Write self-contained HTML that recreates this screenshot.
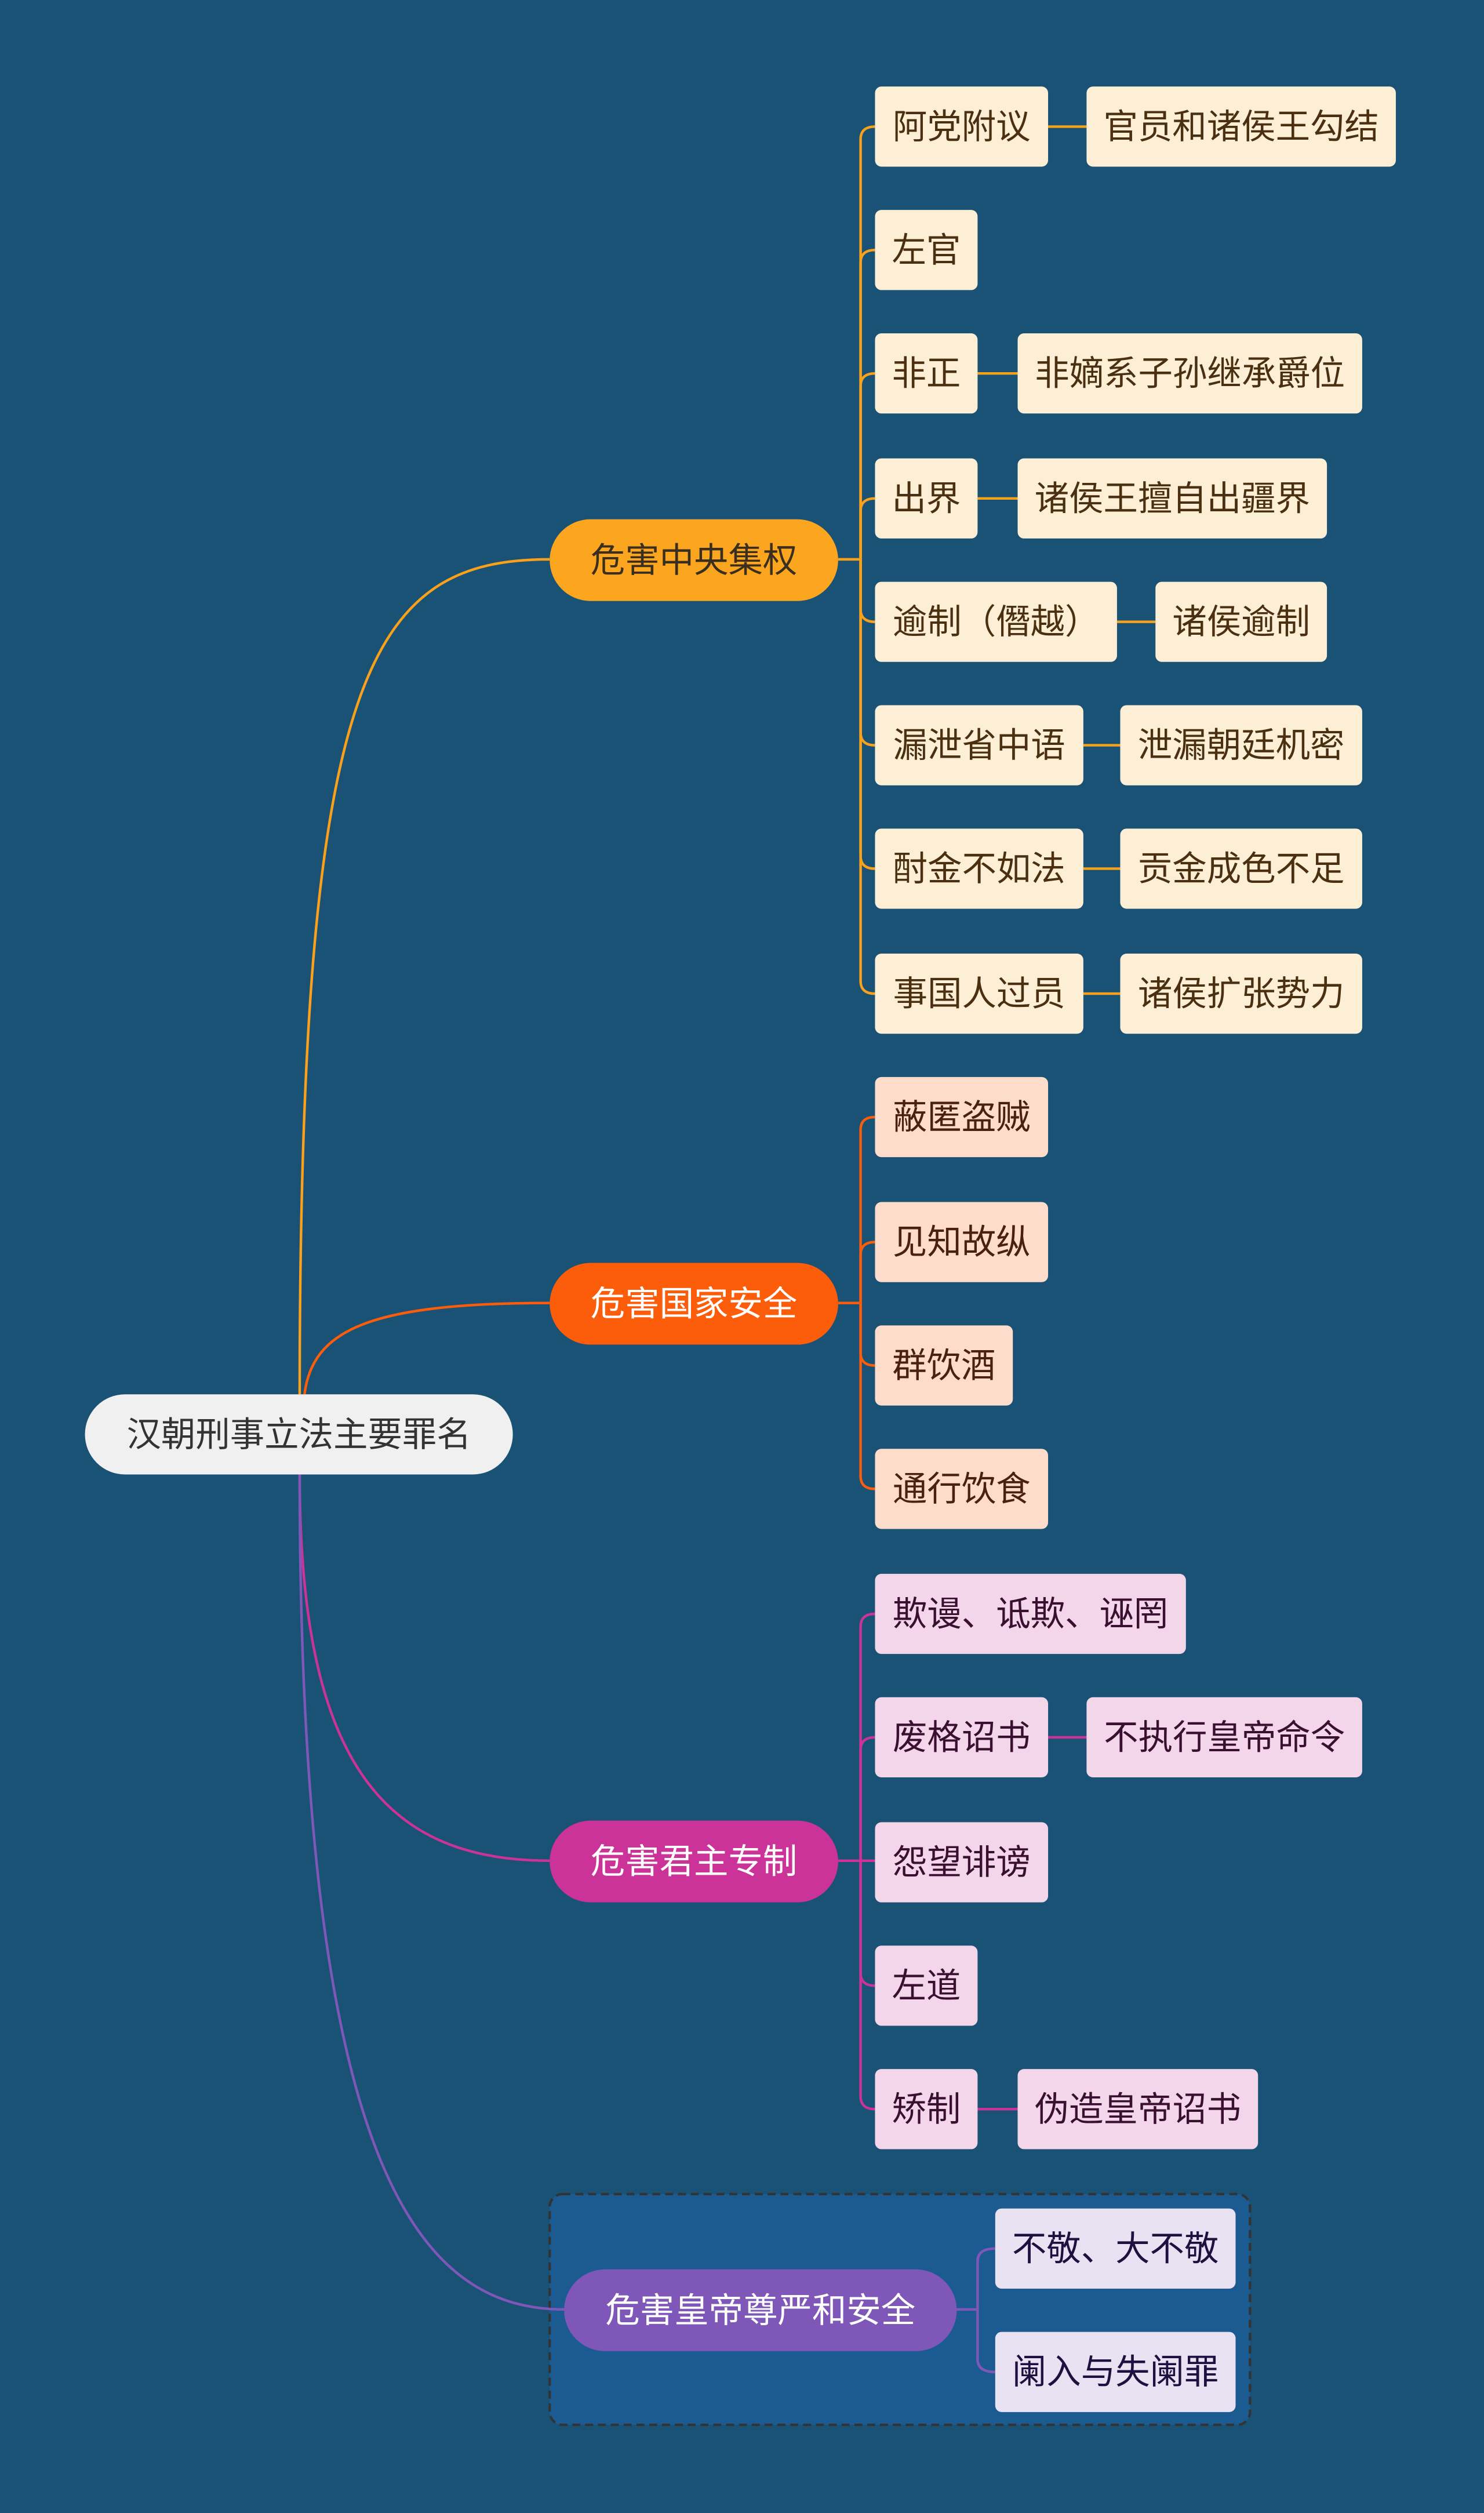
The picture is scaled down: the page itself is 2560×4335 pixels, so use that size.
<!DOCTYPE html>
<html><head><meta charset="utf-8"><style>
html,body{margin:0;padding:0;background:#1a5276;}
svg{display:block}
text{font-family:"Liberation Sans","Noto Sans CJK SC",sans-serif;font-size:21.5px;dominant-baseline:central;text-anchor:middle}
</style></head><body>
<svg width="2560" height="4335" viewBox="0 0 926 1568" preserveAspectRatio="none" xmlns="http://www.w3.org/2000/svg">
<rect width="926" height="1568" fill="#1a5276"/>
<!-- group 4 dashed box -->
<rect x="343" y="1369" width="437" height="144" rx="8" fill="#1c5a92" stroke="#333" stroke-width="1.5" stroke-dasharray="5,3"/>
<!-- root connectors -->
<g fill="none" stroke-width="1.6">
<path d="M187,870 C187,420 230,349 343,349" stroke="#f9a11b"/>
<path d="M190,870 C195,830 230,813 343,813" stroke="#fc5d0a"/>
<path d="M187,920 C187,1100 240,1161 343,1161" stroke="#cc3399"/>
<path d="M187,920 C187,1350 260,1441 352,1441" stroke="#7e57b8"/>
</g>
<!-- group connectors -->
<g fill="none" stroke-width="1.6" stroke="#f9a11b">
<path d="M523,349 H537"/>
<path d="M537,349 V87 Q537,79 546,79"/><path d="M537,349 V164 Q537,156 546,156"/><path d="M537,349 V241 Q537,233 546,233"/><path d="M537,349 V319 Q537,311 546,311"/>
<path d="M537,349 V380 Q537,388 546,388"/><path d="M537,349 V457 Q537,465 546,465"/><path d="M537,349 V534 Q537,542 546,542"/><path d="M537,349 V612 Q537,620 546,620"/>
<path d="M654,79 H678"/><path d="M610,233 H635"/><path d="M610,311 H635"/><path d="M697,388 H721"/><path d="M676,465 H699"/><path d="M676,542 H699"/><path d="M676,620 H699"/>
</g>
<g fill="none" stroke-width="1.6" stroke="#fc5d0a">
<path d="M523,813 H537"/>
<path d="M537,813 V705 Q537,697 546,697"/><path d="M537,813 V783 Q537,775 546,775"/><path d="M537,813 V844 Q537,852 546,852"/><path d="M537,813 V921 Q537,929 546,929"/>
</g>
<g fill="none" stroke-width="1.6" stroke="#cc3399">
<path d="M523,1161 H537"/>
<path d="M537,1161 V1015 Q537,1007 546,1007"/><path d="M537,1161 V1092 Q537,1084 546,1084"/><path d="M537,1161 H546"/><path d="M537,1161 V1231 Q537,1239 546,1239"/><path d="M537,1161 V1308 Q537,1316 546,1316"/>
<path d="M654,1084 H678"/><path d="M610,1316 H635"/>
</g>
<g fill="none" stroke-width="1.6" stroke="#7e57b8">
<path d="M597,1441 H610"/><path d="M610,1441 V1411 Q610,1403 621,1403"/><path d="M610,1441 V1472 Q610,1480 621,1480"/>
</g>
<!-- root -->
<rect x="53" y="870" width="267" height="50" rx="25" fill="#f0f0f0"/>
<text x="186.5" y="895" fill="#333">汉朝刑事立法主要罪名</text>
<!-- branches -->
<rect x="343" y="324" width="180" height="51" rx="25.5" fill="#fca51f"/><text x="433" y="349.5" fill="#3a2f1f">危害中央集权</text>
<rect x="343" y="788" width="180" height="51" rx="25.5" fill="#fc5d0a"/><text x="433" y="813.5" fill="#fff">危害国家安全</text>
<rect x="343" y="1136" width="180" height="51" rx="25.5" fill="#cc3399"/><text x="433" y="1161.5" fill="#fff">危害君主专制</text>
<rect x="352" y="1416" width="245" height="51" rx="25.5" fill="#7e57b8"/><text x="474.5" y="1441.5" fill="#fff">危害皇帝尊严和安全</text>
<!-- group 1 leaves -->
<g fill="#fdefd6">
<rect x="546" y="54" width="108" height="50" rx="4"/><rect x="678" y="54" width="193" height="50" rx="4"/>
<rect x="546" y="131" width="64" height="50" rx="4"/>
<rect x="546" y="208" width="64" height="50" rx="4"/><rect x="635" y="208" width="215" height="50" rx="4"/>
<rect x="546" y="286" width="64" height="50" rx="4"/><rect x="635" y="286" width="193" height="50" rx="4"/>
<rect x="546" y="363" width="151" height="50" rx="4"/><rect x="721" y="363" width="107" height="50" rx="4"/>
<rect x="546" y="440" width="130" height="50" rx="4"/><rect x="699" y="440" width="151" height="50" rx="4"/>
<rect x="546" y="517" width="130" height="50" rx="4"/><rect x="699" y="517" width="151" height="50" rx="4"/>
<rect x="546" y="595" width="130" height="50" rx="4"/><rect x="699" y="595" width="151" height="50" rx="4"/>
</g>
<g fill="#4a3010">
<text x="600" y="79">阿党附议</text><text x="774.5" y="79">官员和诸侯王勾结</text>
<text x="578" y="156">左官</text>
<text x="578" y="233">非正</text><text x="742.5" y="233">非嫡系子孙继承爵位</text>
<text x="578" y="311">出界</text><text x="731.5" y="311">诸侯王擅自出疆界</text>
<text x="621.5" y="388">逾制（僭越）</text><text x="774.5" y="388">诸侯逾制</text>
<text x="611" y="465">漏泄省中语</text><text x="774.5" y="465">泄漏朝廷机密</text>
<text x="611" y="542">酎金不如法</text><text x="774.5" y="542">贡金成色不足</text>
<text x="611" y="620">事国人过员</text><text x="774.5" y="620">诸侯扩张势力</text>
</g>
<!-- group 2 -->
<g fill="#fddccb">
<rect x="546" y="672" width="108" height="50" rx="4"/><rect x="546" y="750" width="108" height="50" rx="4"/>
<rect x="546" y="827" width="86" height="50" rx="4"/><rect x="546" y="904" width="108" height="50" rx="4"/>
</g>
<g fill="#4a2010">
<text x="600" y="697">蔽匿盗贼</text><text x="600" y="775">见知故纵</text><text x="589" y="852">群饮酒</text><text x="600" y="929">通行饮食</text>
</g>
<!-- group 3 -->
<g fill="#f4d6ea">
<rect x="546" y="982" width="194" height="50" rx="4"/>
<rect x="546" y="1059" width="108" height="50" rx="4"/><rect x="678" y="1059" width="172" height="50" rx="4"/>
<rect x="546" y="1137" width="108" height="50" rx="4"/>
<rect x="546" y="1214" width="64" height="50" rx="4"/>
<rect x="546" y="1291" width="64" height="50" rx="4"/><rect x="635" y="1291" width="150" height="50" rx="4"/>
</g>
<g fill="#3a1030">
<text x="643" y="1007">欺谩、诋欺、诬罔</text>
<text x="600" y="1084">废格诏书</text><text x="764" y="1084">不执行皇帝命令</text>
<text x="600" y="1162">怨望诽谤</text>
<text x="578" y="1239">左道</text>
<text x="578" y="1316">矫制</text><text x="710" y="1316">伪造皇帝诏书</text>
</g>
<!-- group 4 -->
<g fill="#e8e2f3">
<rect x="621" y="1378" width="150" height="50" rx="4"/><rect x="621" y="1455" width="150" height="50" rx="4"/>
</g>
<g fill="#201040">
<text x="696" y="1403">不敬、大不敬</text><text x="696" y="1480">阑入与失阑罪</text>
</g>
</svg>
</body></html>
